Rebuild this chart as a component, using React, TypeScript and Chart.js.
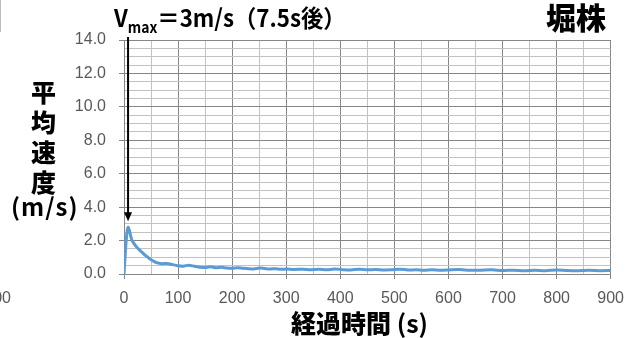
import { useEffect, useRef } from 'react';
import { Chart, registerables } from 'chart.js';

Chart.register(...registerables);

// Elapsed time (s) and mean speed (m/s) of the 堀株 run
const elapsedTimes = [
  0, 2.5, 5, 7.5, 10, 12.5, 15,
  20, 25, 30, 35, 40, 45, 50, 55, 60,
  70, 80, 90, 100, 110, 120, 130, 140, 150, 160, 170, 180, 190, 200,
  210, 220, 230, 240, 250, 260, 270, 280, 290, 300,
  315, 330, 345, 360, 375, 390, 405, 420, 435, 450,
  465, 480, 495, 510, 525, 540, 555, 570, 585, 600,
  620, 640, 660, 680, 700, 720, 740, 760, 780, 800, 820, 840, 860, 880, 900,
];
const meanSpeeds = [
  0, 1.3, 2.35, 2.8, 2.6, 2.25, 2.0,
  1.75, 1.55, 1.4, 1.25, 1.1, 0.98, 0.86, 0.76, 0.68,
  0.62, 0.63, 0.56, 0.5, 0.47, 0.53, 0.46, 0.41, 0.39, 0.43, 0.37, 0.4, 0.36, 0.35,
  0.38, 0.34, 0.32, 0.3, 0.36, 0.33, 0.3, 0.32, 0.28, 0.3,
  0.27, 0.29, 0.26, 0.28, 0.25, 0.3, 0.26, 0.24, 0.29, 0.25,
  0.27, 0.24, 0.26, 0.29, 0.24, 0.25, 0.23, 0.26, 0.22, 0.24,
  0.27, 0.22, 0.23, 0.25, 0.21, 0.23, 0.2, 0.22, 0.2, 0.24, 0.21, 0.2, 0.22, 0.2, 0.21,
];

// Tail of the neighbouring panel, cut off at the left edge
const neighborTimes = [850, 870, 890];
const neighborSpeeds = [0.9, 0.95, 0.92];

// Axis ranges and tick spacing
const xMax = 900;
const xStep = 50;
const xMajorStep = 100;
const yMax = 14;
const yStep = 0.5;
const yMajorStep = 2;

const peakIndex = meanSpeeds.indexOf(Math.max(...meanSpeeds));
const peakTime = elapsedTimes[peakIndex];
const peakSpeed = meanSpeeds[peakIndex];

const MAJOR = '#868686';
const MINOR = '#c2c2c2';
const LINE = '#5b9bd5';
const TICK_FONT = "'Liberation Sans', Arial, sans-serif";
const JP_FONT = "'Noto Sans CJK JP', sans-serif";

const isMultiple = (v: number, step: number) =>
  Math.abs(v / step - Math.round(v / step)) < 1e-6;

const arrowPlugin = {
  id: 'peakArrow',
  afterDatasetsDraw(chart: any) {
    const { ctx, scales } = chart;
    const x = scales.x.getPixelForValue(peakTime);
    const tip = scales.y.getPixelForValue(peakSpeed) - 6;
    ctx.save();
    ctx.strokeStyle = '#000';
    ctx.fillStyle = '#000';
    ctx.lineWidth = 2;
    ctx.beginPath();
    ctx.moveTo(x, 37);
    ctx.lineTo(x, tip - 6);
    ctx.stroke();
    ctx.beginPath();
    ctx.moveTo(x, tip);
    ctx.lineTo(x - 4, tip - 9);
    ctx.lineTo(x + 4, tip - 9);
    ctx.closePath();
    ctx.fill();
    ctx.restore();
  },
};

function SpeedPanel({ times, speeds, withArrow }: { times: number[]; speeds: number[]; withArrow: boolean }) {
  const canvasRef = useRef<HTMLCanvasElement | null>(null);

  useEffect(() => {
    if (!canvasRef.current) return;
    const chart = new Chart(canvasRef.current, {
      type: 'line',
      data: {
        datasets: [
          {
            data: times.map((t, i) => ({ x: t, y: speeds[i] })),
            borderColor: LINE,
            borderWidth: 3,
            pointRadius: 0,
            tension: 0.25,
            fill: false,
          },
        ],
      },
      plugins: withArrow ? [arrowPlugin] : [],
      options: {
        animation: false,
        responsive: true,
        maintainAspectRatio: false,
        layout: { padding: { left: 0, right: 14, top: 40, bottom: 0 } },
        plugins: { legend: { display: false }, tooltip: { enabled: false } },
        scales: {
          x: {
            type: 'linear',
            min: 0,
            max: xMax,
            afterFit: (s: any) => {
              s.height = 64;
            },
            ticks: {
              stepSize: xStep,
              autoSkip: false,
              maxRotation: 0,
              padding: 10,
              color: '#595959',
              font: { family: TICK_FONT, size: 16 },
              callback: (v: any) => (isMultiple(Number(v), xMajorStep) ? String(v) : ''),
            },
            grid: {
              color: (c: any) => (isMultiple(c.tick.value, xMajorStep) ? MAJOR : MINOR),
              tickColor: (c: any) => (isMultiple(c.tick.value, xMajorStep) ? MAJOR : 'rgba(0,0,0,0)'),
              tickLength: 5,
              lineWidth: 1,
            },
            border: { color: MAJOR },
          },
          y: {
            type: 'linear',
            min: 0,
            max: yMax,
            afterFit: (s: any) => {
              s.width = 124;
            },
            ticks: {
              stepSize: yStep,
              autoSkip: false,
              padding: 13,
              color: '#595959',
              font: { family: TICK_FONT, size: 16 },
              callback: (v: any) => (isMultiple(Number(v), yMajorStep) ? Number(v).toFixed(1) : ''),
            },
            grid: {
              color: (c: any) => (isMultiple(c.tick.value, yMajorStep) ? MAJOR : MINOR),
              tickColor: (c: any) => (isMultiple(c.tick.value, yMajorStep) ? MAJOR : 'rgba(0,0,0,0)'),
              tickLength: 5,
              lineWidth: 1,
            },
            border: { color: MAJOR },
          },
        },
      },
    } as any);
    return () => chart.destroy();
  }, [times, speeds, withArrow]);

  return <canvas ref={canvasRef} />;
}

const jp = (extra: React.CSSProperties): React.CSSProperties => ({
  position: 'absolute',
  fontFamily: JP_FONT,
  fontWeight: 700,
  color: '#000',
  lineHeight: 1,
  whiteSpace: 'nowrap',
  ...extra,
});

export default function App() {
  const peakLabel = `＝${Math.round(peakSpeed)}m/s（${peakTime}s後）`;
  return (
    <div
      style={{
        position: 'fixed',
        left: 0,
        top: 0,
        width: 634,
        height: 338,
        overflow: 'hidden',
        background: '#fff',
      }}
    >
      <div style={{ position: 'absolute', left: -613, top: 0, width: 634, height: 338 }}>
        <SpeedPanel times={neighborTimes} speeds={neighborSpeeds} withArrow={false} />
      </div>
      <div style={{ position: 'absolute', left: 0, top: 0, width: 1, height: 32, background: '#bdbdbd' }} />
      <div style={{ position: 'absolute', left: 0, top: 0, width: 634, height: 338 }}>
        <SpeedPanel times={elapsedTimes} speeds={meanSpeeds} withArrow={true} />
      </div>

      <div style={jp({ left: 114, top: 5, fontSize: 24, transform: 'scaleX(0.93)', transformOrigin: 'left top' })}>
        V<span style={{ fontSize: 15, position: 'relative', top: 6 }}>max</span>
        {peakLabel}
      </div>
      <div style={jp({ left: 546, top: 1, fontSize: 30, fontWeight: 900 })}>堀株</div>
      <div style={jp({ left: 31, top: 76, fontSize: 25, width: 26, lineHeight: '30px', whiteSpace: 'normal', fontWeight: 900 })}>
        平均速度
      </div>
      <div style={jp({ left: 11, top: 194, fontSize: 24, letterSpacing: 1 })}>(m/s)</div>
      <div style={jp({ left: 291, top: 310, fontSize: 25, fontWeight: 900 })}>
        経過時間 <span style={{ fontWeight: 700 }}>(s)</span>
      </div>
    </div>
  );
}
